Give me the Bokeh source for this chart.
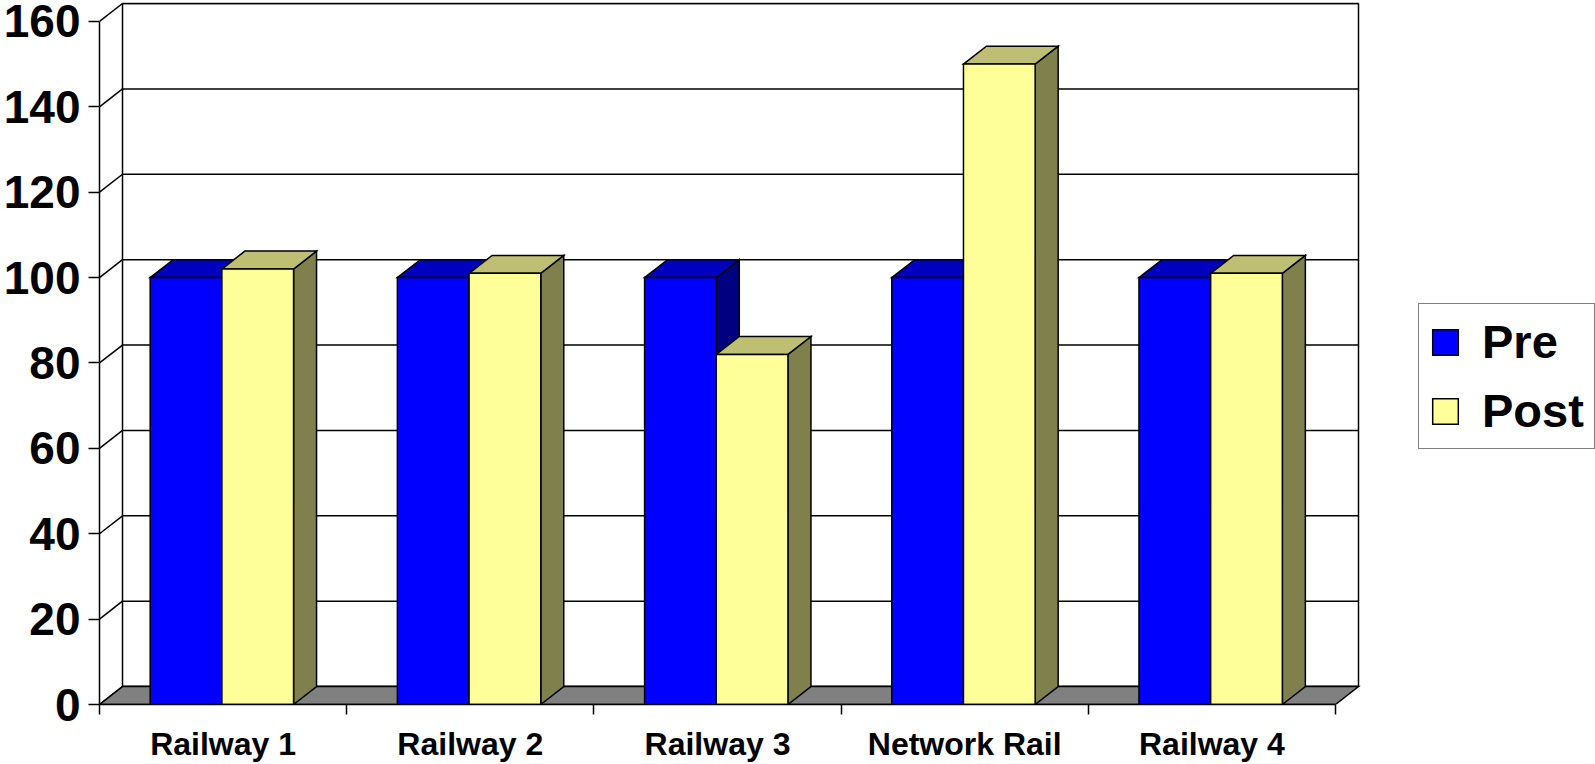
import numpy as np
from bokeh.plotting import figure
from bokeh.models import Range1d, FixedTicker, Legend, LegendItem
from bokeh.embed import file_html
from bokeh.resources import INLINE

# ---- data ----
categories = ["Railway 1", "Railway 2", "Railway 3", "Network Rail", "Railway 4"]
pre = [100, 100, 100, 100, 100]
post = [102, 101, 82, 150, 101]
y_ticks = [0, 20, 40, 60, 80, 100, 120, 140, 160]

# ---- layout ----
W, H = 1595, 764
B_LEFT, B_RIGHT, B_TOP, B_BOTTOM = 99, 0, 2, 57
frame_w = W - B_LEFT - B_RIGHT
frame_h = H - B_TOP - B_BOTTOM
PX_X = 247.2           # pixels per category
PX_Y = 686.0 / 160.0   # pixels per value unit
x_max = frame_w / PX_X
y_max = frame_h / PX_Y
DX = 23.0 / PX_X       # depth offset in data units
DY = 18.0 / PX_Y
n = len(categories)
y_top = y_ticks[-1]
BW = 0.29
CEN = 0.495
FONT = "Liberation Sans"
LW = 1.5

p = figure(width=W, height=H, x_range=Range1d(0, x_max), y_range=Range1d(0, y_max),
           min_border_left=B_LEFT, min_border_right=B_RIGHT,
           min_border_top=B_TOP, min_border_bottom=B_BOTTOM,
           output_backend="svg", toolbar_location=None,
           outline_line_color=None, background_fill_color="white",
           border_fill_color="white")
p.grid.visible = False

# ---- walls & floor ----
yt = np.array(y_ticks, dtype=float)
# back wall fill
p.quad(left=[DX], right=[n + DX], bottom=[DY], top=[y_top + DY],
       fill_color="white", line_color="black", line_width=LW)
# back wall gridlines
p.segment(x0=[DX] * len(yt), y0=yt + DY, x1=[n + DX] * len(yt), y1=yt + DY,
          line_color="black", line_width=LW)
# left wall diagonals
p.segment(x0=[0] * len(yt), y0=yt, x1=[DX] * len(yt), y1=yt + DY,
          line_color="black", line_width=LW)
# floor
p.patch(x=[0, n, n + DX, DX], y=[0, 0, DY, DY], fill_color="#808080",
        line_color="black", line_width=LW, line_join="miter")

# ---- bars ----
def faces(lefts, rights, vals):
    tops_x = [[l, r, r + DX, l + DX] for l, r in zip(lefts, rights)]
    tops_y = [[v, v, v + DY, v + DY] for v in vals]
    side_x = [[r, r + DX, r + DX, r] for r in rights]
    side_y = [[0, DY, v + DY, v] for v in vals]
    return tops_x, tops_y, side_x, side_y

renders = {}
series = [("Pre", pre, -BW, 0.0, "#0000FF", "#0000C0", "#000080"),
          ("Post", post, 0.0, BW, "#FFFF99", "#BFBF73", "#80804D")]
for name, vals, lo, hi, c_front, c_top, c_side in series:
    lefts = [i + CEN + lo for i in range(n)]
    rights = [i + CEN + hi for i in range(n)]
    tx, ty, sx, sy = faces(lefts, rights, vals)
    p.patches(xs=sx, ys=sy, fill_color=c_side, line_color="black", line_width=LW, line_join="miter")
    p.patches(xs=tx, ys=ty, fill_color=c_top, line_color="black", line_width=LW, line_join="miter")
    renders[name] = p.quad(left=lefts, right=rights, bottom=[0] * n, top=vals,
                           fill_color=c_front, line_color="black", line_width=LW,
                           line_join="miter")

# ---- axes ----
ya = p.yaxis[0]
ya.ticker = FixedTicker(ticks=y_ticks)
ya.bounds = (0, y_top)
ya.axis_line_width = LW
ya.major_tick_line_width = LW
ya.major_tick_out = 11
ya.major_tick_in = 0
ya.minor_tick_line_color = None
ya.major_label_standoff = 8
ya.major_label_text_font = FONT
ya.major_label_text_font_size = "46px"
ya.major_label_text_font_style = "bold"
ya.major_label_text_color = "black"

xa = p.xaxis[0]
xa.ticker = FixedTicker(ticks=[i + 0.5 for i in range(n)], minor_ticks=list(range(n + 1)))
xa.major_label_overrides = {i + 0.5: c for i, c in enumerate(categories)}
xa.bounds = (0, n)
xa.axis_line_width = LW
xa.major_tick_line_color = None
xa.major_tick_out = 10
xa.major_tick_in = 0
xa.minor_tick_out = 10
xa.minor_tick_in = 0
xa.minor_tick_line_width = LW
xa.minor_tick_line_color = "black"
xa.major_label_standoff = 11
xa.major_label_text_font = FONT
xa.major_label_text_font_size = "32px"
xa.major_label_text_font_style = "bold"
xa.major_label_text_color = "black"

# ---- legend ----
legend = Legend(items=[LegendItem(label="Pre", renderers=[renders["Pre"]]),
                       LegendItem(label="Post", renderers=[renders["Post"]])],
                location=(1418 - B_LEFT, H - B_BOTTOM - 452),
                orientation="vertical",
                border_line_color="black", border_line_width=LW,
                background_fill_color="white", background_fill_alpha=1.0,
                padding=10, spacing=14, margin=0,
                glyph_width=32, glyph_height=32, label_standoff=21,
                label_text_font=FONT, label_text_font_size="47px",
                label_text_font_style="bold", label_text_color="black")
p.add_layout(legend, "center")

open("out.html", "w").write(file_html(p, INLINE))
